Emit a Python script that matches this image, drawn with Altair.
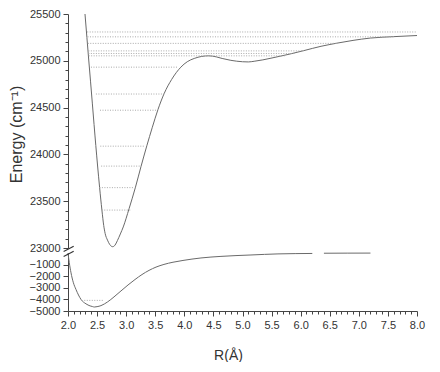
import altair as alt
import pandas as pd

# ---- upper (excited) state potential curve, R in Angstrom, E in cm^-1
upper_r = [2.292, 2.325, 2.358, 2.388, 2.418, 2.448, 2.478, 2.509, 2.543, 2.583, 2.614, 2.639,
           2.679, 2.72, 2.768, 2.81, 2.85, 2.90, 2.95, 3.05, 3.16, 3.255, 3.355, 3.45,
           3.546, 3.655, 3.78, 3.94, 4.05, 4.17, 4.30, 4.42, 4.55, 4.65, 4.80,
           5.00, 5.10, 5.20, 5.35, 5.49, 5.80, 6.05, 6.35, 6.62, 6.90, 7.20, 7.60, 8.00]
upper_e = [25500, 25250, 24998, 24775, 24548, 24320, 24095, 23876, 23649, 23405, 23241, 23154,
           23084, 23035, 23014, 23032, 23080, 23150, 23225, 23420, 23650, 23870, 24092, 24290,
           24478, 24653, 24799, 24932, 24990, 25025, 25047, 25053, 25042, 25025, 25005,
           24990, 24988, 24995, 25010, 25028, 25070, 25108, 25155, 25188, 25218, 25243, 25258, 25270]

# ---- vibrational levels of the upper state (dotted lines)
level_e = [25308, 25256, 25186, 25106, 25078, 25053, 24932, 24645, 24472, 24088, 23875, 23645, 23405]
level_r1 = [2.33, 2.335, 2.34, 2.35, 2.35, 2.355, 2.395, 2.48, 2.55, 2.555, 2.57, 2.54, 2.58]
level_r2 = [8.00, 7.60, 6.62, 6.05, 5.90, 5.75, 3.885, 3.65, 3.54, 3.32, 3.25, 3.14, 3.07]

# ---- lower (ground) state potential curve
lower_r = [2.00, 2.022, 2.052, 2.09, 2.137, 2.18, 2.223, 2.309, 2.38, 2.424, 2.452, 2.50,
           2.567, 2.682, 2.791, 2.911, 3.032, 3.152, 3.272, 3.393, 3.513, 3.65,
           3.805, 3.977, 4.286, 4.63, 5.146, 5.61, 6.20,
           6.40, 6.80, 7.20]
lower_e = [0, -830, -1712, -2520, -3142, -3620, -3998, -4383, -4560, -4622, -4657, -4625,
           -4537, -4212, -3784, -3270, -2757, -2286, -1858, -1498, -1216, -984,
           -796, -642, -428, -291, -171, -77, -40,
           -20, -12, -8]
lower_seg = [0] * 29 + [1] * 3

# ---- lower-state level (dotted)
low_level_e = [-4085]
low_level_r1 = [2.28]
low_level_r2 = [2.60]

# ---- axis break marks ("//") drawn in lower-panel data units
break_r1 = [1.925, 1.925]
break_r2 = [2.098, 2.098]
break_e1 = [128, -300]
break_e2 = [581, 154]

# ---- tick values
x_ticks = [round(2.0 + i * 0.1, 1) for i in range(61)]
upper_ticks = list(range(23000, 25501, 100))
lower_ticks = [-5000, -4000, -3000, -2000, -1000]

up_df = pd.DataFrame({"R": upper_r, "E": upper_e})
lev_df = pd.DataFrame({"R": level_r1, "R2": level_r2, "E": level_e})
low_df = pd.DataFrame({"R": lower_r, "E": lower_e, "seg": lower_seg})
low_lev_df = pd.DataFrame({"R": low_level_r1, "R2": low_level_r2, "E": low_level_e})
brk_df = pd.DataFrame({"R": break_r1, "R2": break_r2, "E": break_e1, "E2": break_e2})

W = 349
xsc = alt.Scale(domain=[2.0, 8.0], nice=False, zero=False)
ysc_up = alt.Scale(domain=[23000, 25500], nice=False, zero=False)
ysc_low = alt.Scale(domain=[-5000, 0], nice=False, zero=False)

CURVE = "#6a6a6a"
LEVEL = "#a0a0a0"

up_axis = alt.Axis(
    values=upper_ticks,
    format="d",
    labelExpr="datum.value % 500 == 0 ? datum.label : ''",
    tickSize={"condition": {"test": "datum.value % 500 == 0", "value": 5}, "value": 3},
    labelOverlap=False,
    labelFlush=False,
    labelPadding=3,
    title="Energy (cm⁻¹)",
    titleFontSize=16,
    titleFontWeight="normal",
    titleAngle=270,
    titleBaseline="bottom",
    titleAlign="center",
    titleX=-44,
    titleY=120,
)

x_axis = alt.Axis(
    values=x_ticks,
    format=".1f",
    labelExpr="abs(datum.value * 2 - round(datum.value * 2)) < 0.001 ? datum.label : ''",
    tickSize={"condition": {"test": "abs(datum.value * 2 - round(datum.value * 2)) < 0.001",
                            "value": 5}, "value": 3},
    labelOverlap=False,
    labelFlush=False,
    labelPadding=3,
    title="R(Å)",
    titleFontSize=14,
    titleFontWeight="normal",
    titleBaseline="top",
    titleAlign="center",
    titleX=160,
    titleY=37,
)

low_axis = alt.Axis(
    values=lower_ticks,
    format="d",
    tickSize=5,
    labelOverlap=False,
    labelFlush=False,
    labelPadding=3,
    title="",
)

# upper panel
upper_curve = alt.Chart(up_df).mark_line(
    color=CURVE, strokeWidth=1, interpolate="monotone"
).encode(
    x=alt.X("R:Q", scale=xsc, axis=None),
    y=alt.Y("E:Q", scale=ysc_up, axis=up_axis),
)

upper_levels = alt.Chart(lev_df).mark_rule(
    color=LEVEL, strokeWidth=0.9, strokeDash=[1, 1.5]
).encode(
    x=alt.X("R:Q", scale=xsc, axis=None),
    x2="R2:Q",
    y=alt.Y("E:Q", scale=ysc_up, axis=up_axis),
)

upper = alt.layer(upper_curve, upper_levels).properties(width=W, height=234)

# lower panel
lower_curve = alt.Chart(low_df).mark_line(
    color=CURVE, strokeWidth=1, interpolate="monotone"
).encode(
    x=alt.X("R:Q", scale=xsc, axis=x_axis),
    y=alt.Y("E:Q", scale=ysc_low, axis=low_axis),
    detail="seg:N",
)

lower_level = alt.Chart(low_lev_df).mark_rule(
    color=LEVEL, strokeWidth=0.9, strokeDash=[1, 1.5]
).encode(
    x=alt.X("R:Q", scale=xsc, axis=x_axis),
    x2="R2:Q",
    y=alt.Y("E:Q", scale=ysc_low, axis=low_axis),
)

breaks = alt.Chart(brk_df).mark_rule(color="#333333", strokeWidth=1.1).encode(
    x=alt.X("R:Q", scale=xsc, axis=x_axis),
    x2="R2:Q",
    y=alt.Y("E:Q", scale=ysc_low, axis=low_axis),
    y2="E2:Q",
)

lower = alt.layer(lower_curve, lower_level, breaks).properties(width=W, height=58)

chart = alt.vconcat(upper, lower, spacing=5, bounds="flush").properties(
    padding={"left": 0, "top": 0, "right": 5, "bottom": 0}
).configure_axis(
    labelFont="Liberation Sans",
    titleFont="Liberation Sans",
    labelFontSize=11,
    labelColor="#333333",
    titleColor="#333333",
    domainColor="#444444",
    tickColor="#444444",
    domainWidth=1,
    tickWidth=1,
    grid=False,
).configure_view(strokeWidth=0)

chart.save("out.html", embed_options={"renderer": "svg", "actions": False})
